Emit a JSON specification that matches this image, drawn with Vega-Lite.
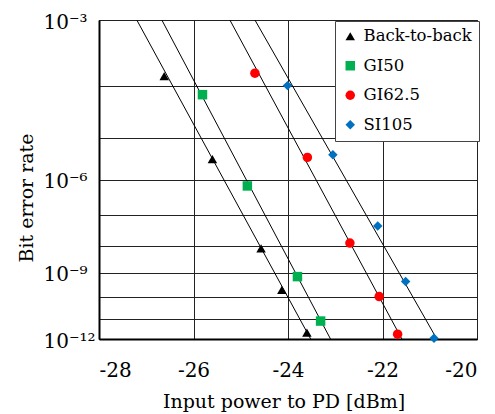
{
  "$schema": "https://vega.github.io/schema/vega-lite/v6.json",
  "width": 378,
  "height": 319,
  "autosize": "none",
  "padding": {"left": 99, "top": 20, "right": 18, "bottom": 75},
  "background": "white",
  "config": {
    "font": "DejaVu Serif",
    "view": {"stroke": "#000", "strokeWidth": 1},
    "axis": {"labelFont": "DejaVu Serif", "titleFont": "DejaVu Serif", "labelColor": "#000", "titleColor": "#000", "titleFontWeight": "normal", "gridColor": "#222", "gridOpacity": 1, "gridWidth": 1, "domainColor": "#000", "ticks": false, "tickSize": 0}
  },
  "datasets": {
    "points": [
      {"series": "Back-to-back", "power": -26.62, "neglogBER": 3.83},
      {"series": "Back-to-back", "power": -25.60, "neglogBER": 5.49},
      {"series": "Back-to-back", "power": -24.57, "neglogBER": 8.09},
      {"series": "Back-to-back", "power": -24.13, "neglogBER": 9.69},
      {"series": "Back-to-back", "power": -23.60, "neglogBER": 11.67},
      {"series": "GI50", "power": -25.81, "neglogBER": 4.15},
      {"series": "GI50", "power": -24.86, "neglogBER": 6.17},
      {"series": "GI50", "power": -23.80, "neglogBER": 9.15},
      {"series": "GI50", "power": -23.31, "neglogBER": 11.1},
      {"series": "GI62.5", "power": -24.70, "neglogBER": 3.78},
      {"series": "GI62.5", "power": -23.59, "neglogBER": 5.45},
      {"series": "GI62.5", "power": -22.69, "neglogBER": 7.91},
      {"series": "GI62.5", "power": -22.07, "neglogBER": 9.98},
      {"series": "GI62.5", "power": -21.68, "neglogBER": 11.75},
      {"series": "SI105", "power": -24.01, "neglogBER": 3.99},
      {"series": "SI105", "power": -23.05, "neglogBER": 5.39},
      {"series": "SI105", "power": -22.10, "neglogBER": 7.34},
      {"series": "SI105", "power": -21.51, "neglogBER": 9.35},
      {"series": "SI105", "power": -20.91, "neglogBER": 11.96}
    ],
    "fits": [
      {"series": "Back-to-back", "power": -27.20, "neglogBER": 3},
      {"series": "Back-to-back", "power": -23.52, "neglogBER": 12},
      {"series": "GI50", "power": -26.67, "neglogBER": 3},
      {"series": "GI50", "power": -23.10, "neglogBER": 12},
      {"series": "GI62.5", "power": -25.23, "neglogBER": 3},
      {"series": "GI62.5", "power": -21.59, "neglogBER": 12},
      {"series": "SI105", "power": -24.70, "neglogBER": 3},
      {"series": "SI105", "power": -20.85, "neglogBER": 12}
    ]
  },
  "layer": [
    {
      "data": {"name": "fits"},
      "mark": {"type": "line", "color": "#000", "strokeWidth": 1, "clip": true},
      "encoding": {
        "x": {"field": "power", "type": "quantitative", "scale": {"domain": [-28, -20], "nice": false, "zero": false},
          "axis": {"values": [-28, -26, -24, -22, -20], "title": "Input power to PD [dBm]", "labelFontSize": 20, "titleFontSize": 19, "labelPadding": 21, "domainWidth": 2,
            "titleX": 184.5, "titleY": 68, "titleBaseline": "alphabetic", "titleAlign": "center",
            "labelExpr": "datum.value < 0 ? '-' + (-datum.value) : '' + datum.value"}},
        "y": {"field": "neglogBER", "type": "quantitative", "scale": {"type": "log", "domain": [3, 12], "reverse": true, "nice": false, "zero": false},
          "axis": {"values": [3, 4, 5, 6, 7, 8, 9, 10, 11, 12], "title": "Bit error rate", "labelFontSize": 20, "titleFontSize": 19, "labelPadding": 56, "labelAlign": "left", "labelBaseline": "middle", "labelOffset": 2, "domainWidth": 2,
            "titleX": -67, "titleY": 177.5, "titleBaseline": "alphabetic", "titleAlign": "center", "titleAngle": -90,
            "labelExpr": "datum.value == 3 ? '10⁻³' : datum.value == 6 ? '10⁻⁶' : datum.value == 9 ? '10⁻⁹' : datum.value == 12 ? '10⁻¹²' : ''"}},
        "detail": {"field": "series"}
      }
    },
    {
      "data": {"name": "points"},
      "mark": {"type": "point", "filled": true, "opacity": 1, "size": 90, "strokeWidth": 0},
      "encoding": {
        "x": {"field": "power", "type": "quantitative"},
        "y": {"field": "neglogBER", "type": "quantitative"},
        "color": {"field": "series", "type": "nominal",
          "scale": {"domain": ["Back-to-back", "GI50", "GI62.5", "SI105"], "range": ["#000000", "#00B050", "#FF0000", "#0070C0"]},
          "legend": {"title": null, "orient": "none", "legendX": 236, "legendY": 1, "fillColor": "white", "strokeColor": "#444", "padding": 7, "labelFont": "DejaVu Serif", "labelFontSize": 16.5, "labelColor": "#000", "symbolSize": 90, "rowPadding": 12.5, "labelOffset": 5, "symbolStrokeWidth": 0}},
        "shape": {"field": "series", "type": "nominal",
          "scale": {"domain": ["Back-to-back", "GI50", "GI62.5", "SI105"], "range": ["triangle-up", "square", "circle", "diamond"]}}
      }
    }
  ]
}
